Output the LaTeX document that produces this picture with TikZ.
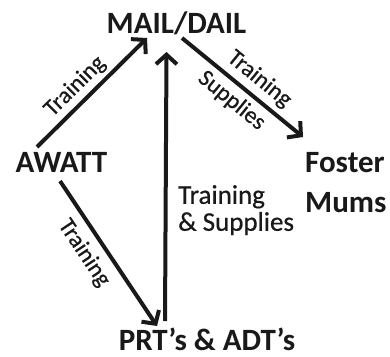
\documentclass[tikz,border=0pt]{standalone}
\usepackage{fontspec}
\setmainfont{Carlito}
\usetikzlibrary{arrows.meta,calc}
\begin{document}
\begin{tikzpicture}[x=1pt,y=-1pt,
  title/.style={font=\bfseries\fontsize{31}{31}\selectfont, inner sep=0pt, text=black!90},
  lab/.style={font=\fontsize{23.5}{23.5}\selectfont\addfontfeature{FakeBold=0.6}, inner sep=0pt, text=black!90},
  arr/.style={line width=4pt, draw=black!90, -{Straight Barb[length=9.5pt,width=21pt,line width=4pt]}}]
\useasboundingbox (0,0) rectangle (390,356);
\node[title, anchor=base] (mail) at (176.5,33) {MAIL/DAIL};
\node[title, anchor=base] (awatt) at (61.5,172) {AWATT};
\node[title, anchor=north west, align=left, font=\bfseries\fontsize{31}{40}\selectfont] (foster) at (305,152) {Foster\\Mums};
\node[title, anchor=base] (prt) at (207,350) {PRT’s \& ADT’s};
\node[lab, anchor=north west, align=left, font=\fontsize{27}{27}\selectfont\addfontfeature{FakeBold=0.6}] (ts) at (178,185) {Training\\\& Supplies};
\draw[arr] ($(awatt.base)+(-24.5,-25)$) -- node[lab, sloped, above=4pt, pos=0.45] (l1) {Training} ($(mail.base)+(-29.5,5)$);
\draw[arr] ($(mail.base)+(5.5,5)$) -- node[lab, sloped, above=5pt, pos=0.55] (l2) {Training} node[lab, sloped, below=5pt, pos=0.5] (l3) {Supplies} ($(foster.north west)+(-2,-15)$);
\draw[arr] ($(prt.base)+(-42,-29)$) -- ($(mail.base)+(-10,19)$);
\draw[arr] ($(awatt.base)+(-1.5,9)$) -- node[lab, sloped, below=8pt, pos=0.42] (l4) {Training} ($(prt.base)+(-50,-24)$);
\end{tikzpicture}
\end{document}
